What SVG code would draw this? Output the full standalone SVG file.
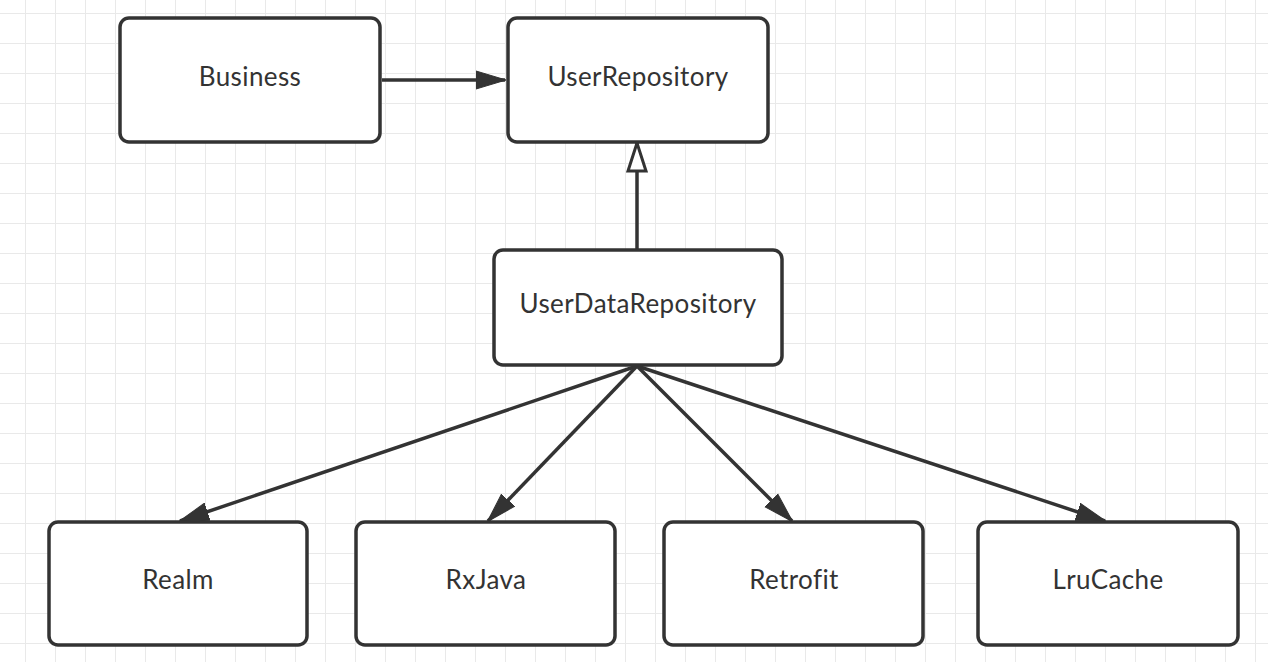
<svg xmlns="http://www.w3.org/2000/svg" width="1268" height="662" viewBox="0 0 1268 662">
<defs>
<pattern id="grid" x="25" y="13" width="30" height="30" patternUnits="userSpaceOnUse">
<path d="M0 0H30M0 0V30" fill="none" stroke="#e9e9e9" stroke-width="2"/>
</pattern>
<marker id="filled" viewBox="0 0 30 20" refX="29" refY="10" markerWidth="30" markerHeight="20" markerUnits="userSpaceOnUse" orient="auto">
<path d="M0 1L30 10L0 19Z" fill="#333" stroke="#333" stroke-width="1"/>
</marker>
<marker id="hollow" viewBox="0 0 32 22" refX="30" refY="11" markerWidth="32" markerHeight="22" markerUnits="userSpaceOnUse" orient="auto">
<path d="M2 2L30 11L2 20Z" fill="#fff" stroke="#333" stroke-width="3" stroke-linejoin="miter"/>
</marker>
</defs>
<style>
.node rect{fill:#fff;stroke:#333;stroke-width:3.5}
.node text{font-family:Lato,"Liberation Sans",sans-serif;font-size:26px;letter-spacing:0.4px;fill:#333;text-anchor:middle;dominant-baseline:central}
.edge{fill:none;stroke:#333;stroke-width:3.5}
</style>
<rect width="1268" height="662" fill="#fff"/>
<rect width="1268" height="662" fill="url(#grid)"/>
<g id="connectors">
<line class="edge" x1="382" y1="80" x2="505" y2="80" marker-end="url(#filled)"/>
<line class="edge" x1="637" y1="250" x2="637" y2="143" marker-end="url(#hollow)"/>
<line class="edge" x1="637" y1="366" x2="180" y2="521" marker-end="url(#filled)"/>
<line class="edge" x1="637" y1="366" x2="488" y2="521" marker-end="url(#filled)"/>
<line class="edge" x1="637" y1="366" x2="792" y2="521" marker-end="url(#filled)"/>
<line class="edge" x1="637" y1="366" x2="1105" y2="521" marker-end="url(#filled)"/>
</g>
<g id="business" class="node"><rect x="120" y="18" width="260" height="124" rx="9"/><text x="250" y="76">Business</text></g>
<g id="userRepository" class="node"><rect x="508" y="18" width="260" height="124" rx="9"/><text x="638" y="76">UserRepository</text></g>
<g id="userDataRepository" class="node"><rect x="494" y="250" width="288" height="115" rx="9"/><text x="638" y="303">UserDataRepository</text></g>
<g id="realm" class="node"><rect x="49" y="522" width="258" height="123" rx="9"/><text x="178" y="579">Realm</text></g>
<g id="rxjava" class="node"><rect x="356" y="522" width="259" height="123" rx="9"/><text x="486" y="579">RxJava</text></g>
<g id="retrofit" class="node"><rect x="664" y="522" width="259" height="123" rx="9"/><text x="794" y="579">Retrofit</text></g>
<g id="lrucache" class="node"><rect x="978" y="522" width="260" height="123" rx="9"/><text x="1108" y="579">LruCache</text></g>
</svg>
